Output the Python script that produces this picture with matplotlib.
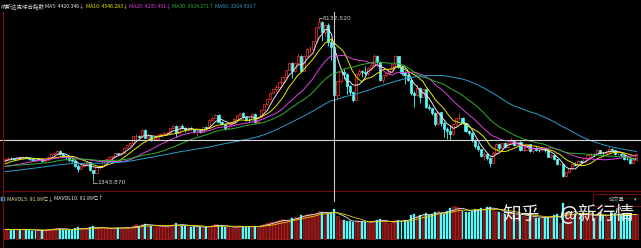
"""
NASDAQ weekly candlestick chart (Tongdaxin style), black background,
price panel with MA5/10/20/30/60 and volume panel with MAVOL5/10.
"""
import matplotlib
matplotlib.use("Agg")
import matplotlib.pyplot as plt
import matplotlib.patches as mpatches
from matplotlib.lines import Line2D
import numpy as np
import pandas as pd

plt.rcParams["font.family"] = ["Noto Sans CJK SC", "DejaVu Sans"]

# ---------------------------------------------------------------------------
# Data (weekly, Mar 1998 - Mar 2002)
# ---------------------------------------------------------------------------
warmup_close = [
    1360, 1350, 1380, 1375, 1360, 1345, 1310, 1320, 1290, 1265,
    1245, 1225, 1205, 1225, 1220, 1305, 1310, 1345, 1380, 1400,
    1380, 1435, 1440, 1445, 1480, 1510, 1550, 1580, 1595, 1610,
    1565, 1600, 1590, 1640, 1630, 1680, 1665, 1705, 1740, 1680,
    1640, 1590, 1620, 1590, 1600, 1600, 1620, 1560, 1530, 1520,
    1580, 1510, 1560, 1580, 1620, 1690, 1710, 1730, 1770, 1750, 1770,
]

open_ = [
    1770, 1810, 1840, 1836, 1815, 1860, 1835, 1870, 1840, 1810,
    1790, 1780, 1815, 1760, 1790, 1870, 1925, 1965, 2010, 1935,
    1875, 1850, 1780, 1760, 1640, 1580, 1660, 1690, 1740, 1560,
    1490, 1620, 1650, 1770, 1820, 1850, 1880, 1950, 1940, 1960,
    2085, 2135, 2193, 2345, 2350, 2340, 2505, 2320, 2360, 2285,
    2290, 2390, 2410, 2415, 2425, 2535, 2590, 2430, 2590, 2540,
    2500, 2530, 2520, 2470, 2480, 2450, 2560, 2550, 2740, 2790,
    2860, 2690, 2640, 2550, 2640, 2650, 2760, 2845, 2890, 2800,
    2740, 2735, 2880, 2690, 2800, 2970, 3100, 3220, 3370, 3450,
    3520, 3620, 3750, 3905, 4069, 3880, 4065, 4235, 3890, 4245,
    4395, 4410, 4590, 4915, 5048, 4798, 4963, 4573, 4446, 3321,
    3640, 3860, 3815, 3530, 3390, 3205, 3815, 3875, 3860, 3845,
    3966, 4025, 4245, 4095, 3665, 3785, 3850, 3930, 4040, 4235,
    3985, 3835, 3800, 3670, 3360, 3315, 3485, 3280, 3450, 3030,
    3010, 2905, 2645, 2915, 2655, 2520, 2470, 2410, 2630, 2770,
    2780, 2660, 2470, 2425, 2260, 2120, 2050, 1890, 1930, 1840,
    1720, 1960, 2165, 2075, 2190, 2105, 2200, 2250, 2150, 2215,
    2030, 2035, 2160, 2005, 2085, 2030, 2030, 2065, 2030, 1870,
    1915, 1805, 1690, 1695, 1423, 1498, 1605, 1705, 1670, 1770,
    1745, 1830, 1900, 1940, 1930, 2020, 1955, 1945, 1990, 2060,
    2020, 1930, 1940, 1910, 1815, 1805, 1725, 1800,
]

high = [
    1822, 1850, 1870, 1845, 1868, 1866, 1880, 1878, 1850, 1825,
    1800, 1822, 1820, 1800, 1878, 1930, 1972, 2028, 2015, 1950,
    1890, 1870, 1810, 1765, 1690, 1675, 1710, 1760, 1745, 1565,
    1640, 1670, 1780, 1830, 1865, 1895, 1955, 1960, 1975, 2090,
    2145, 2200, 2350, 2400, 2380, 2510, 2510, 2400, 2370, 2330,
    2400, 2430, 2460, 2450, 2545, 2610, 2620, 2600, 2630, 2560,
    2560, 2570, 2530, 2500, 2520, 2570, 2590, 2750, 2800, 2865,
    2865, 2720, 2660, 2650, 2680, 2770, 2860, 2900, 2910, 2820,
    2780, 2890, 2900, 2810, 2980, 3110, 3230, 3380, 3460, 3560,
    3640, 3770, 3920, 4090, 4100, 4080, 4300, 4260, 4260, 4420,
    4480, 4600, 4920, 5132.52, 5060, 5000, 5010, 4640, 4460, 3650,
    3900, 3960, 3830, 3560, 3420, 3830, 3930, 3920, 4010, 3980,
    4060, 4290, 4260, 4110, 3800, 3870, 3940, 4050, 4260, 4250,
    4000, 3880, 3830, 3680, 3410, 3580, 3500, 3470, 3460, 3120,
    3020, 2910, 2940, 2920, 2700, 2560, 2620, 2640, 2780, 2900,
    2800, 2670, 2500, 2440, 2290, 2180, 2060, 1990, 1960, 1850,
    1970, 2180, 2190, 2200, 2210, 2220, 2315, 2260, 2240, 2230,
    2100, 2170, 2170, 2100, 2110, 2060, 2080, 2070, 2040, 1930,
    1920, 1810, 1715, 1700, 1500, 1610, 1720, 1740, 1780, 1790,
    1840, 1910, 1945, 1950, 2055, 2030, 1990, 2000, 2100, 2070,
    2030, 1965, 1950, 1920, 1860, 1810, 1810, 1935,
]

low = [
    1760, 1795, 1820, 1800, 1790, 1810, 1820, 1830, 1800, 1780,
    1765, 1770, 1735, 1745, 1785, 1865, 1905, 1955, 1920, 1865,
    1800, 1770, 1745, 1630, 1500, 1570, 1640, 1680, 1540, 1343.87,
    1480, 1590, 1640, 1760, 1800, 1840, 1875, 1900, 1915, 1950,
    2070, 2120, 2190, 2250, 2300, 2335, 2300, 2280, 2240, 2250,
    2270, 2350, 2390, 2380, 2420, 2520, 2340, 2420, 2520, 2450,
    2480, 2490, 2420, 2350, 2420, 2440, 2510, 2545, 2700, 2780,
    2680, 2620, 2490, 2520, 2580, 2640, 2750, 2820, 2790, 2700,
    2690, 2730, 2670, 2680, 2790, 2960, 3090, 3210, 3360, 3400,
    3460, 3600, 3740, 3900, 3710, 3860, 4060, 3880, 3880, 4230,
    4300, 4380, 4560, 4870, 4580, 4700, 4480, 4140, 3320, 3227,
    3600, 3700, 3340, 3330, 3164, 3200, 3760, 3740, 3800, 3780,
    3900, 4020, 4060, 3640, 3600, 3740, 3820, 3920, 4030, 3960,
    3780, 3570, 3640, 3330, 3040, 3290, 3130, 3270, 3010, 2960,
    2850, 2590, 2620, 2600, 2330, 2290, 2250, 2370, 2600, 2730,
    2650, 2460, 2380, 2220, 2070, 2010, 1860, 1790, 1780, 1619,
    1710, 1940, 2030, 2040, 2070, 2080, 2190, 2120, 2140, 2010,
    1995, 2030, 1990, 1960, 2010, 1980, 2010, 1990, 1865, 1840,
    1800, 1680, 1680, 1387, 1400, 1480, 1590, 1640, 1660, 1730,
    1740, 1820, 1880, 1880, 1920, 1940, 1900, 1940, 1985, 2000,
    1920, 1900, 1880, 1800, 1790, 1700, 1715, 1795,
]

close = [
    1810, 1840, 1836, 1815, 1860, 1835, 1870, 1840, 1810, 1790,
    1780, 1815, 1760, 1790, 1870, 1925, 1965, 2010, 1935, 1875,
    1850, 1780, 1760, 1640, 1580, 1660, 1690, 1740, 1560, 1490,
    1620, 1650, 1770, 1820, 1850, 1880, 1950, 1940, 1960, 2085,
    2135, 2193, 2345, 2350, 2340, 2505, 2320, 2360, 2285, 2290,
    2390, 2410, 2420, 2425, 2535, 2590, 2430, 2590, 2540, 2500,
    2530, 2520, 2470, 2480, 2450, 2560, 2550, 2740, 2790, 2860,
    2690, 2640, 2550, 2640, 2650, 2760, 2845, 2890, 2800, 2740,
    2735, 2880, 2690, 2800, 2970, 3100, 3220, 3370, 3450, 3520,
    3620, 3750, 3905, 4069, 3880, 4065, 4235, 3890, 4245, 4395,
    4410, 4590, 4915, 5048, 4798, 4963, 4573, 4446, 3321, 3640,
    3860, 3815, 3530, 3390, 3205, 3815, 3875, 3860, 3845, 3966,
    4025, 4245, 4095, 3665, 3785, 3850, 3930, 4040, 4235, 3985,
    3835, 3800, 3670, 3360, 3315, 3485, 3280, 3450, 3030, 3010,
    2905, 2645, 2915, 2655, 2520, 2470, 2410, 2630, 2770, 2780,
    2660, 2470, 2425, 2260, 2120, 2050, 1890, 1930, 1840, 1720,
    1960, 2165, 2075, 2190, 2105, 2200, 2250, 2150, 2215, 2030,
    2035, 2160, 2005, 2085, 2030, 2025, 2065, 2030, 1870, 1915,
    1805, 1690, 1695, 1423, 1498, 1605, 1705, 1670, 1770, 1745,
    1830, 1900, 1940, 1930, 2020, 1955, 1945, 1990, 2060, 2020,
    1930, 1940, 1910, 1815, 1805, 1725, 1800, 1930,
]

# weekly volume, 亿 shares
volume = [
    36, 38, 35, 37, 39, 34, 37, 36, 33, 32,
    31, 35, 34, 33, 38, 36, 40, 42, 39, 36,
    35, 33, 34, 40, 45, 41, 38, 40, 46, 48,
    42, 40, 41, 40, 41, 39, 42, 43, 41, 45,
    44, 38, 52, 55, 50, 56, 58, 52, 48, 47,
    50, 49, 48, 46, 52, 55, 60, 54, 50, 48,
    49, 47, 45, 46, 44, 47, 45, 50, 53, 55,
    52, 48, 46, 44, 43, 45, 48, 50, 47, 45,
    46, 49, 48, 47, 52, 58, 60, 63, 65, 68,
    72, 75, 70, 66, 80, 82, 84, 90, 88, 92,
    95, 94, 98, 104, 100, 98, 95, 97, 110, 85,
    72, 70, 68, 66, 62, 68, 66, 64, 62, 60,
    65, 72, 70, 74, 66, 62, 60, 63, 70, 72,
    68, 70, 66, 90, 95, 85, 88, 92, 96, 90,
    94, 100, 105, 98, 95, 104, 115, 122, 118, 110,
    105, 100, 102, 105, 112, 108, 115, 110, 118, 120,
    112, 105, 100, 98, 95, 92, 96, 90, 94, 88,
    86, 84, 86, 82, 80, 78, 82, 80, 84, 86,
    88, 95, 60, 135, 100, 98, 95, 92, 90, 94,
    92, 90, 88, 80, 92, 95, 90, 85, 82, 96,
    98, 95, 92, 94, 90, 92, 88, 95,
]

ma_periods = [5, 10, 20, 30, 60]
ma_colors = ["#e6e6e6", "#e8e800", "#e040e0", "#30b030", "#2a9fc8"]
title_name = "纳斯达克综合指数"
title_ma = ["MA5: 4420.346↓", "MA10: 4546.283↓", "MA20: 4235.451↓",
            "MA30: 3924.271↑", "MA60: 3204.433↑"]
vol_labels = ["MAVOL5: 91.89亿↓", "MAVOL10: 91.89亿↑"]
cursor_idx = 108
cursor_price = 2262
peak_label, low_label = "5132.520", "1343.870"

UP = "#ff3232"
DOWN = "#54fcfc"
W, H = 641, 248


def fx(x):
    return x / W


def fy(y):
    return 1 - y / H


# ---------------------------------------------------------------------------
# Figure
# ---------------------------------------------------------------------------
fig = plt.figure(figsize=(W / 100, H / 100), dpi=100, facecolor="black")

n = len(close)
idx = np.arange(n)
x0, dx = 5, 3.05
xlim = (-x0 / dx, (W - x0) / dx)

# price panel: 5132.52 at y=18px, 1343.87 at y=179px
ax = fig.add_axes([0, fy(191), 1, (191 - 12) / H])
ax.set_facecolor("black")
ax.axis("off")
k = (179 - 18) / (5132.52 - 1343.87)
ax.set_xlim(*xlim)
ax.set_ylim(5132.52 - (191 - 18) / k, 5132.52 + (18 - 12) / k)

bw = 0.7
for i in idx:
    o, h, l, c = open_[i], high[i], low[i], close[i]
    up = c >= o
    col = UP if up else DOWN
    ax.vlines(i, l, h, color=col, linewidth=0.6, zorder=2)
    body_h = max(abs(c - o), 4)
    ax.add_patch(mpatches.Rectangle(
        (i - bw / 2, min(o, c)), bw, body_h,
        facecolor="black" if up else DOWN, edgecolor=col,
        linewidth=0.5, zorder=3))

s = pd.Series(warmup_close + close, dtype=float)
for p, col in zip(ma_periods, ma_colors):
    ma = s.rolling(p, min_periods=1).mean().to_numpy()[len(warmup_close):]
    ax.plot(idx, ma, color=col, linewidth=0.7, zorder=4)

# cursor cross
ax.axhline(cursor_price, color="#d8d8d8", linewidth=0.8, zorder=5)

# high / low marks
ipk = int(np.argmax(high))
ilo = int(np.argmin(low))
ax.plot([ipk, ipk + 1.1], [high[ipk], high[ipk]], color="#cccccc", lw=0.5)
ax.text(ipk + 1.2, high[ipk], peak_label, color="#d0d0d0", fontsize=4.3,
        ha="left", va="center", family="DejaVu Sans")
ax.plot([ilo, ilo, ilo + 1.2], [low[ilo], low[ilo] - 90, low[ilo] - 90],
        color="#cccccc", lw=0.5)
ax.text(ilo + 1.3, low[ilo] - 90, low_label, color="#d0d0d0", fontsize=4.3,
        ha="left", va="center", family="DejaVu Sans")

# volume panel
vax = fig.add_axes([0, 0, 1, 57 / H])
vax.set_facecolor("black")
vax.axis("off")
vax.set_xlim(*xlim)
vax.set_ylim(-32, 178)
up_mask = np.array(close) >= np.array(open_)
vol = np.array(volume, dtype=float)
vax.bar(idx[up_mask], vol[up_mask], width=0.8, color="#701010",
        edgecolor="#d02828", linewidth=0.4, zorder=2)
vax.bar(idx[~up_mask], vol[~up_mask], width=0.65, color=DOWN,
        edgecolor=DOWN, linewidth=0.2, zorder=2)
vs = pd.Series(vol)
vax.plot(idx, vs.rolling(5, min_periods=1).mean(), color="#e8e8e8",
         linewidth=0.6, zorder=3)
vax.plot(idx, vs.rolling(10, min_periods=1).mean(), color="#e8d000",
         linewidth=0.6, zorder=3)

# ---------------------------------------------------------------------------
# Frame lines, cursor, labels
# ---------------------------------------------------------------------------
fig.add_artist(Line2D([fx(3), fx(3)], [fy(12), fy(248)], color="#8a0a0a",
                      linewidth=0.9))
fig.add_artist(Line2D([fx(3), 1], [fy(191), fy(191)], color="#6a0a0a",
                      linewidth=0.9))
cx = fx(x0 + cursor_idx * dx)
fig.add_artist(Line2D([cx, cx], [fy(12), fy(201)], color="#c8c8c8",
                      linewidth=0.8))

fig.text(fx(1), fy(6), title_name, color="#d8d8d8", fontsize=4.0,
         ha="left", va="center")
ma_x = [45, 86, 129, 172, 215]
for xp, txt, col in zip(ma_x, title_ma, ma_colors):
    fig.text(fx(xp), fy(6), txt, color=col, fontsize=3.7,
             ha="left", va="center")

fig.add_artist(mpatches.Rectangle((fx(1), fy(201)), fx(4), 4 / H,
                                  facecolor="#2a7fb0", edgecolor="#60d0ff",
                                  linewidth=0.3))
fig.text(fx(7), fy(199), vol_labels[0], color="#e0e0a0", fontsize=3.8,
         ha="left", va="center")
fig.text(fx(54), fy(199), vol_labels[1], color="#e8e8e8", fontsize=3.8,
         ha="left", va="center")

fig.add_artist(mpatches.Rectangle((fx(593), fy(206)), fx(48), 12 / H,
                                  facecolor="black", edgecolor="#6a0a0a",
                                  linewidth=0.8))
fig.text(fx(609), fy(200), "成交量", color="#b0b0b0", fontsize=3.8,
         ha="left", va="center")
fig.text(fx(635), fy(200), "▾", color="#b0b0b0", fontsize=3.8,
         ha="center", va="center", family=["DejaVu Sans"])

# watermark
fig.text(fx(502), fy(215), "知乎", color="white", alpha=0.92,
         fontsize=13.5, ha="left", va="center")
fig.text(fx(560), fy(215), "@新行情", color="white", alpha=0.92,
         fontsize=13.5, ha="left", va="center")

fig.savefig("out.png", dpi=100, facecolor="black")
plt.close(fig)
